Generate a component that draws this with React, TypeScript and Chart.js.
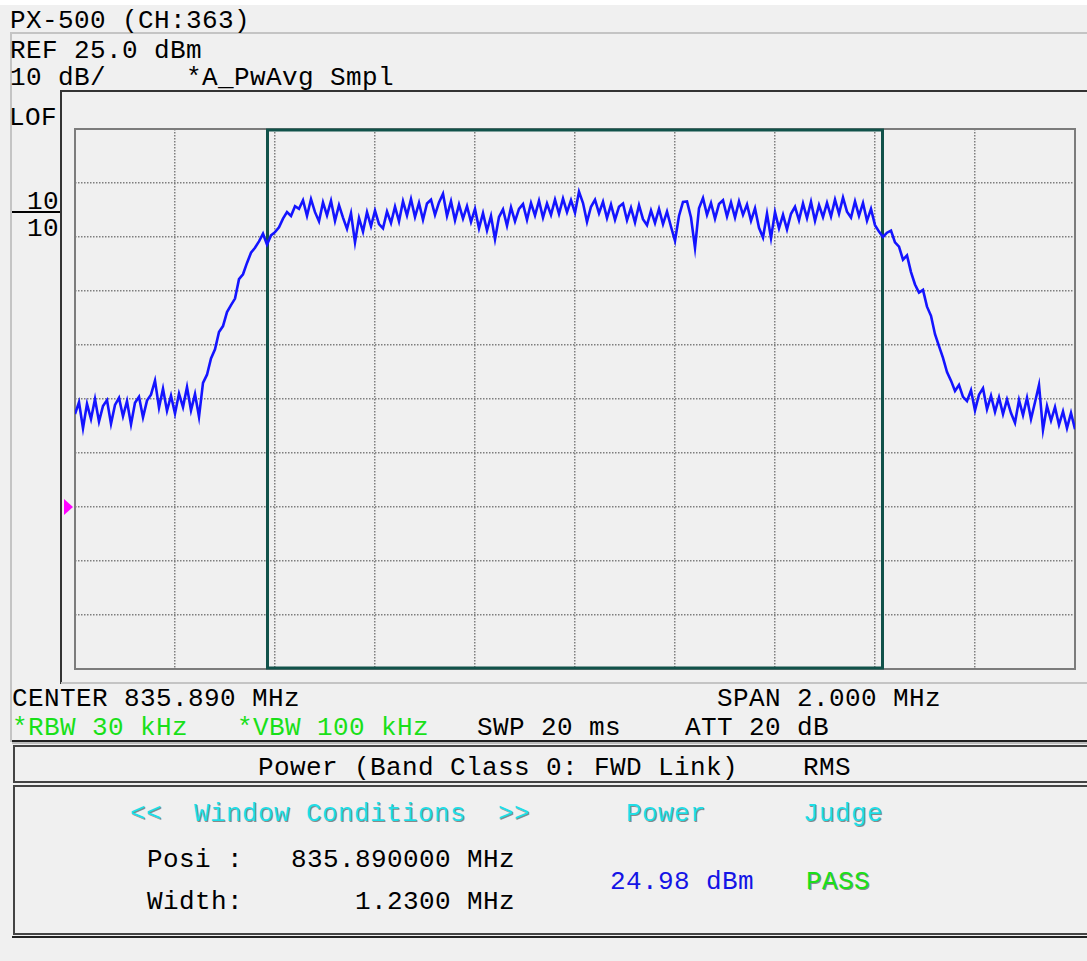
import React, { useEffect, useRef } from "react";
import { Chart, registerables } from "chart.js";

Chart.register(...registerables);

// ---- sweep / display settings ----
const spanStartKHz = -1000; // relative to CENTER 835.890 MHz
const spanEndKHz = 1000;
const freqDivKHz = 200;
const refLevelDbm = 25;
const bottomLevelDbm = -75;
const ampDivDb = 10;
const windowWidthKHz = 1230;
const markerLevelDbm = -45;

// ---- trace values (dBm), read from the sweep, left to right ----
const leftFloor = [
  -27.8, -25.6, -30.4, -25.9, -28.7, -25.0, -29.2, -26.3, -25.2, -29.6,
  -26.1, -24.8, -28.2, -25.4, -29.7, -25.7, -24.6, -28.4, -25.3, -24.2,
  -21.6, -26.6, -23.1, -27.2, -24.4, -27.7, -24.0, -26.5, -22.8, -27.1,
  -24.1, -28.3,
];
const leftSkirt = [
  -22.0, -20.5, -17.5, -15.8, -12.6, -11.5, -8.9, -7.6, -6.4, -2.8,
  -1.9, 0.2, 2.1, 3.0, 4.2, 5.6, 3.6, 5.3, 5.9, 6.8,
  8.4, 9.6, 8.9, 10.7, 10.2,
];
const channelBand = [
  11.8, 8.9, 12.0, 9.6, 7.9, 11.4, 9.0, 11.7, 8.0, 10.9,
  8.6, 6.5, 9.4, 4.0, 8.5, 6.0, 9.6, 7.0, 9.9, 7.4,
  6.6, 9.7, 7.6, 10.6, 7.9, 11.6, 9.0, 12.0, 8.7, 11.3,
  8.2, 11.2, 11.9, 9.1, 11.4, 13.0, 8.9, 11.6, 8.1, 11.0,
  8.4, 10.7, 7.8, 10.2, 6.6, 9.4, 6.2, 8.9, 4.6, 8.7,
  10.1, 7.1, 10.5, 7.9, 10.2, 11.1, 8.2, 11.3, 9.0, 11.7,
  8.6, 11.2, 9.1, 11.9, 9.3, 12.1, 9.6, 11.8, 9.5, 13.4,
  11.3, 7.8, 10.6, 11.9, 9.4, 11.5, 8.5, 11.0, 8.2, 10.6,
  11.2, 8.1, 10.4, 7.7, 10.9, 8.3, 7.2, 9.9, 7.6, 10.2,
  7.4, 9.7, 6.9, 4.3, 8.9, 11.5, 11.6, 8.6, 3.0, 10.3,
  12.2, 9.1, 11.3, 8.4, 11.1, 11.8, 8.8, 11.4, 8.6, 11.6,
  9.1, 11.0, 8.0, 10.3, 6.7, 4.9, 9.3, 4.8, 9.6, 6.6,
  9.1, 6.4, 9.3, 10.6, 8.1, 11.2, 8.5, 11.5, 8.0, 10.9,
  8.7, 11.3, 8.8, 11.9, 9.3, 12.3, 9.7, 8.6, 11.6, 8.9,
  11.3, 8.0, 10.2, 7.2,
];
const rightSkirt = [
  6.0, 5.0, 5.8, 6.2, 4.0, 3.2, 0.8, 1.6, -1.5, -3.8,
  -5.3, -4.8, -7.9, -9.6, -13.0, -15.2, -17.4, -20.0, -21.6, -23.5,
  -22.4, -24.6,
];
const rightFloor = [
  -25.4, -23.4, -27.1, -24.2, -23.0, -26.9, -24.4, -27.4, -24.7, -27.8,
  -25.1, -27.6, -29.4, -25.2, -28.0, -24.8, -28.7, -25.6, -22.4, -30.7,
  -26.3, -29.0, -26.5, -29.8, -27.3, -30.4, -27.6, -30.6,
];
const traceDbm = [...leftFloor, ...leftSkirt, ...channelBand, ...rightSkirt, ...rightFloor];

const MONO = "'Liberation Mono', 'DejaVu Sans Mono', monospace";

const overlayPlugin = {
  id: "analyzerOverlay",
  beforeDatasetsDraw(chart: any) {
    const { ctx, chartArea, scales } = chart;
    const x = scales.x;
    ctx.save();
    ctx.strokeStyle = "#7c7c7c";
    ctx.lineWidth = 2;
    ctx.strokeRect(chartArea.left, chartArea.top, chartArea.right - chartArea.left, chartArea.bottom - chartArea.top);
    const wl = x.getPixelForValue(-windowWidthKHz / 2);
    const wr = x.getPixelForValue(windowWidthKHz / 2);
    ctx.strokeStyle = "#11524a";
    ctx.lineWidth = 3;
    ctx.strokeRect(wl, chartArea.top + 1, wr - wl, chartArea.bottom - chartArea.top - 2);
    ctx.restore();
  },
  afterDraw(chart: any) {
    const { ctx, chartArea, scales } = chart;
    const yy = scales.y.getPixelForValue(markerLevelDbm);
    ctx.save();
    ctx.fillStyle = "#ff00ff";
    ctx.beginPath();
    ctx.moveTo(chartArea.left - 11, yy - 8);
    ctx.lineTo(chartArea.left - 2, yy);
    ctx.lineTo(chartArea.left - 11, yy + 8);
    ctx.closePath();
    ctx.fill();
    ctx.restore();
  },
};

function T(props: { x: number; cy: number; color?: string; text: string; shadow?: boolean }) {
  return (
    <div
      style={{
        position: "absolute",
        left: props.x,
        top: props.cy - 11.5,
        fontFamily: MONO,
        fontSize: 26,
        letterSpacing: 0.4,
        lineHeight: "26px",
        whiteSpace: "pre",
        color: props.color || "#000",
        textShadow: props.shadow ? "1px 1px 0 #8a8a8a" : undefined,
      }}
    >
      {props.text}
    </div>
  );
}

function Line(props: { x: number; y: number; w: number; h: number; c: string }) {
  return (
    <div style={{ position: "absolute", left: props.x, top: props.y, width: props.w, height: props.h, background: props.c }} />
  );
}

export default function App() {
  const canvasRef = useRef<HTMLCanvasElement | null>(null);

  useEffect(() => {
    if (!canvasRef.current) return;
    const step = (spanEndKHz - spanStartKHz) / (traceDbm.length - 1);
    const points = traceDbm.map((v, i) => ({ x: spanStartKHz + i * step, y: v }));
    const gridStyle = { color: "#7e7e7e", lineWidth: 1.5, drawTicks: false };
    const borderStyle = { display: false, dash: [1.5, 1.5] };
    const chart = new Chart(canvasRef.current, {
      type: "line",
      data: {
        datasets: [
          {
            data: points,
            borderColor: "#1414ff",
            borderWidth: 2.6,
            pointRadius: 0,
            tension: 0,
            fill: false,
          },
        ],
      },
      options: {
        responsive: false,
        animation: false,
        events: [],
        layout: { padding: { left: 15, right: 12, top: 10, bottom: 10 } },
        plugins: { legend: { display: false }, tooltip: { enabled: false } },
        scales: {
          x: {
            type: "linear",
            min: spanStartKHz,
            max: spanEndKHz,
            ticks: { display: false, stepSize: freqDivKHz },
            grid: gridStyle,
            border: borderStyle,
          },
          y: {
            type: "linear",
            min: bottomLevelDbm,
            max: refLevelDbm,
            ticks: { display: false, stepSize: ampDivDb },
            grid: gridStyle,
            border: borderStyle,
          },
        },
      },
      plugins: [overlayPlugin],
    } as any);
    return () => chart.destroy();
  }, []);

  return (
    <div style={{ position: "absolute", left: 0, top: 0, width: 1087, height: 961, background: "#f0f0f0", overflow: "hidden" }}>
      <Line x={0} y={0} w={1087} h={5} c="#ffffff" />
      <Line x={10} y={32} w={1077} h={2} c="#c4c4c4" />
      <Line x={10} y={32} w={2} h={710} c="#c4c4c4" />
      <Line x={61} y={90} w={1026} h={2} c="#333" />
      <Line x={60} y={90} w={2} h={594} c="#333" />
      <Line x={61} y={682} w={1026} h={2} c="#c4c4c4" />

      <T x={10} cy={19} text="PX-500 (CH:363)" />
      <T x={10} cy={49} text="REF 25.0 dBm" />
      <T x={10} cy={76} text="10 dB/     *A_PwAvg Smpl" />
      <T x={9} cy={116} text="LOF" />
      <T x={27} cy={200} text="10" />
      <Line x={12} y={211} w={48} h={2} c="#000" />
      <T x={27} cy={227} text="10" />

      <canvas ref={canvasRef} width={1027} height={560} style={{ position: "absolute", left: 60, top: 119 }} />

      <T x={12} cy={697} text="CENTER 835.890 MHz" />
      <T x={717} cy={697} text="SPAN 2.000 MHz" />
      <T x={12} cy={726} color="#19e019" text="*RBW 30 kHz" />
      <T x={237} cy={726} color="#19e019" text="*VBW 100 kHz" />
      <T x={477} cy={726} text="SWP 20 ms" />
      <T x={685} cy={726} text="ATT 20 dB" />

      <Line x={12} y={740} w={1075} h={2} c="#222" />
      <Line x={12} y={742} w={1075} h={2} c="#bdbdbd" />
      <div style={{ position: "absolute", left: 13, top: 745, width: 1080, height: 38, border: "2px solid #444", boxSizing: "border-box" }} />
      <div style={{ position: "absolute", left: 13, top: 785, width: 1080, height: 150, border: "2px solid #444", boxSizing: "border-box" }} />
      <Line x={12} y={936} w={1075} h={2} c="#222" />

      <T x={258} cy={766} text="Power (Band Class 0: FWD Link)" />
      <T x={803} cy={766} text="RMS" />
      <T x={130} cy={812} color="#1fdde6" shadow text="<<  Window Conditions  >>" />
      <T x={626} cy={812} color="#1fdde6" shadow text="Power" />
      <T x={803} cy={812} color="#1fdde6" shadow text="Judge" />
      <T x={147} cy={858} text="Posi :" />
      <T x={291} cy={858} text="835.890000 MHz" />
      <T x={147} cy={900} text="Width:" />
      <T x={355} cy={900} text="1.2300 MHz" />
      <T x={610} cy={880} color="#1414e6" text="24.98 dBm" />
      <T x={806} cy={880} color="#19e019" shadow text="PASS" />
    </div>
  );
}
